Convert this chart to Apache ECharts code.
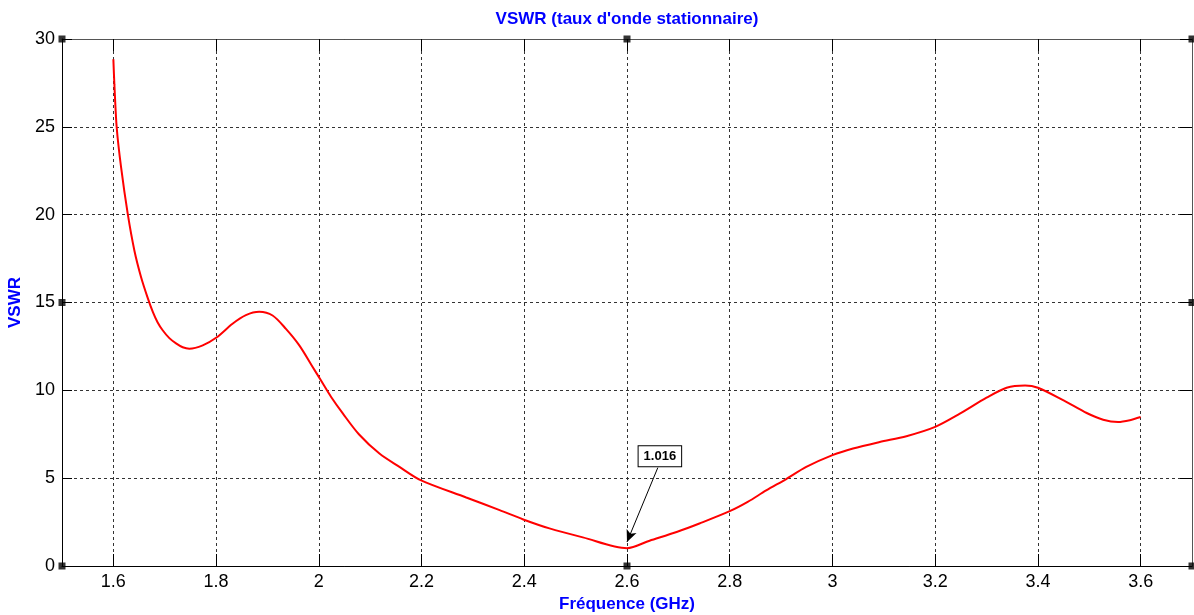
<!DOCTYPE html>
<html><head><meta charset="utf-8">
<script src="https://cdn.jsdelivr.net/npm/echarts@6/dist/echarts.min.js"></script>
<style>html,body{margin:0;padding:0;background:#fff}#c{width:1194px;height:615px}</style>
</head><body><div id="c"></div>
<script>
// ---- data ----
const freq = [1.600,1.602,1.6065,1.615,1.628,1.641,1.654,1.667,1.677,1.686,1.696,1.709,1.722,1.735,1.748,1.774,1.800,1.832,1.858,1.884,1.910,1.936,1.962,1.988,2.004,2.024,2.047,2.078,2.118,2.157,2.198,2.287,2.352,2.398,2.449,2.514,2.600,2.644,2.698,2.741,2.800,2.835,2.871,2.910,2.949,3.000,3.040,3.092,3.144,3.200,3.248,3.300,3.339,3.375,3.400,3.450,3.495,3.527,3.556,3.579,3.600];
const vswr = [28.85,27.40,24.96,22.70,20.04,17.95,16.44,15.25,14.45,13.88,13.42,12.97,12.67,12.45,12.37,12.56,12.99,13.79,14.28,14.47,14.26,13.50,12.56,11.33,10.57,9.62,8.67,7.50,6.40,5.64,4.89,3.90,3.18,2.65,2.14,1.63,1.016,1.44,1.95,2.42,3.12,3.65,4.30,4.95,5.64,6.31,6.69,7.06,7.39,7.92,8.67,9.58,10.15,10.28,10.15,9.43,8.71,8.33,8.20,8.30,8.48];
const xTicks = [1.6,1.8,2,2.2,2.4,2.6,2.8,3,3.2,3.4,3.6];
const xMin = 1.5, xMax = 3.7;
const yMin = 0, yMax = 30, yStep = 5;
const titleText = "VSWR (taux d'onde stationnaire)";
const xName = 'Fréquence (GHz)';
const yName = 'VSWR';
const markerFreq = 2.6;
const markerLabelAt = [2.664, 6.25];
const markerArrowFrom = [2.660, 5.6];

// ---- chart ----
const markerIdx = freq.indexOf(markerFreq);
const markerVal = vswr[markerIdx];
const FONT = '"Liberation Sans", Arial, sans-serif';
const chart = echarts.init(document.getElementById('c'), null, {renderer: 'canvas'});
const xMid = (xMin + xMax) / 2, yMidV = (yMin + yMax) / 2;
const handles = [[xMin,yMin],[xMid,yMin],[xMax,yMin],[xMin,yMidV],[xMax,yMidV],[xMin,yMax],[xMid,yMax],[xMax,yMax]];

const gridLine = {show: true, lineStyle: {color: '#333', width: 1, type: [3, 3]}};
const nameStyle = {color: '#0000ff', fontWeight: 'bold', fontSize: 17, fontFamily: FONT};
chart.setOption({
  animation: false,
  backgroundColor: '#fff',
  textStyle: {fontFamily: FONT},
  grid: {left: 62, right: 2, top: 39, bottom: 49, containLabel: false, outerBoundsMode: 'none'},
  xAxis: [{
    type: 'value', min: xMin, max: xMax, position: 'bottom',
    name: xName, nameLocation: 'middle', nameGap: 28,
    nameTextStyle: nameStyle,
    axisLine: {show: true, onZero: false, lineStyle: {color: '#000', width: 1}},
    axisTick: {show: true, inside: true, length: 12, customValues: xTicks, lineStyle: {color: '#000'}},
    axisLabel: {customValues: xTicks, color: '#000', fontSize: 18, margin: 7, fontFamily: FONT,
      formatter: v => String(+v.toFixed(1))},
    splitLine: gridLine
  }, {
    type: 'value', min: xMin, max: xMax, position: 'top',
    name: titleText, nameLocation: 'middle', nameGap: 11,
    nameTextStyle: nameStyle,
    axisLine: {show: true, onZero: false, lineStyle: {color: '#555', width: 1}},
    axisTick: {show: true, inside: true, length: 12, customValues: xTicks, lineStyle: {color: '#000'}},
    axisLabel: {show: false},
    splitLine: {show: false}
  }],
  yAxis: [{
    type: 'value', min: yMin, max: yMax, interval: yStep, position: 'left',
    name: yName, nameLocation: 'middle', nameGap: 35,
    nameTextStyle: nameStyle,
    axisLine: {show: true, onZero: false, lineStyle: {color: '#000', width: 1}},
    axisTick: {show: true, inside: true, length: 10, lineStyle: {color: '#000'}},
    axisLabel: {color: '#000', fontSize: 18, margin: 7, fontFamily: FONT},
    splitLine: gridLine
  }, {
    type: 'value', min: yMin, max: yMax, interval: yStep, position: 'right',
    axisLine: {show: true, onZero: false, lineStyle: {color: '#555', width: 1}},
    axisTick: {show: true, inside: true, length: 12, lineStyle: {color: '#000'}},
    axisLabel: {show: false},
    splitLine: {show: false}
  }],
  series: [{
    type: 'line', name: 'VSWR',
    data: freq.map((f, i) => [f, vswr[i]]),
    showSymbol: false, smooth: 0.3,
    lineStyle: {color: '#ff0000', width: 2},
    itemStyle: {color: '#ff0000'},
    markLine: {
      silent: true, symbol: ['none', 'arrow'], symbolSize: [8, 12],
      lineStyle: {color: '#000', width: 1, type: 'solid'},
      label: {show: false},
      data: [[{coord: markerArrowFrom}, {coord: [markerFreq, markerVal + 0.35]}]]
    },
    markPoint: {
      symbol: 'rect', symbolSize: 0, silent: true,
      label: {show: true, position: 'inside', formatter: String(markerVal.toFixed(3)),
        color: '#000', fontWeight: 'bold', fontSize: 13, fontFamily: FONT,
        backgroundColor: '#fff', borderColor: '#000', borderWidth: 1, padding: [4, 5, 3, 5]},
      data: [{coord: markerLabelAt}]
    },
    z: 3
  }, {
    type: 'scatter', data: handles, symbol: 'rect', symbolSize: 7,
    itemStyle: {color: '#000'}, clip: false, silent: true, z: 5
  }]
});
</script></body></html>
